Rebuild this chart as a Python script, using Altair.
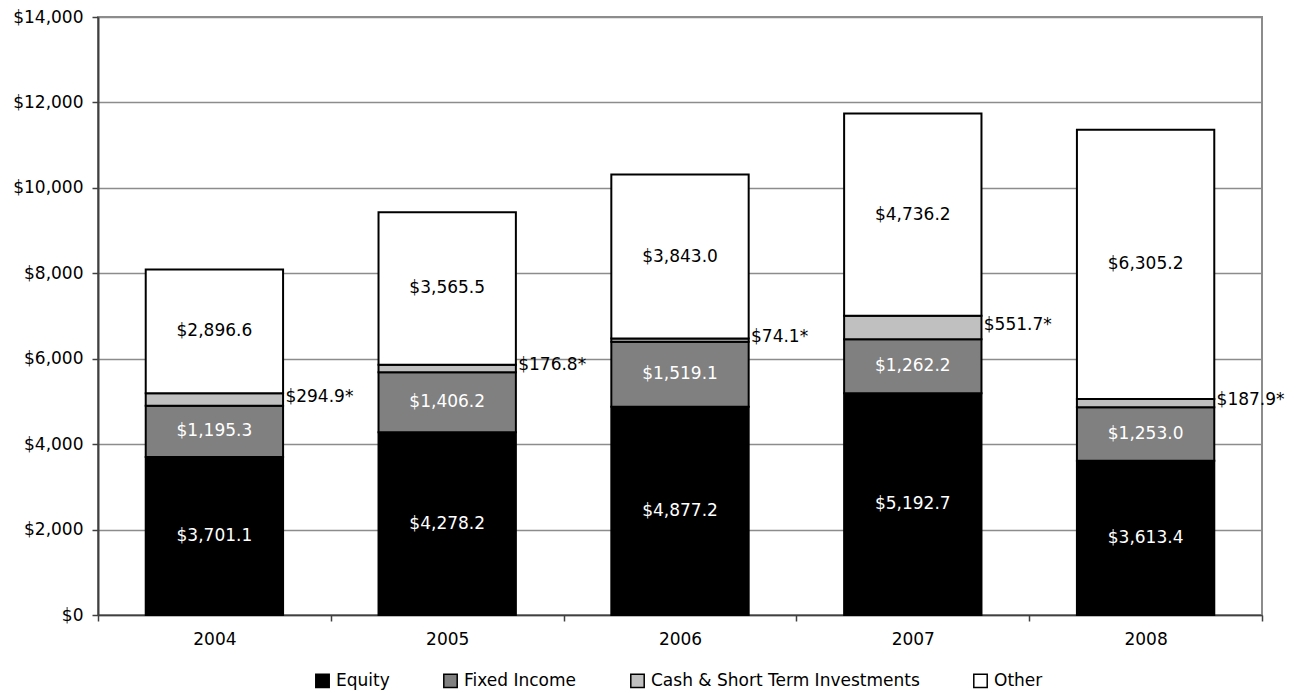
import altair as alt
import pandas as pd

years = ["2004", "2005", "2006", "2007", "2008"]
series = ["Equity", "Fixed Income", "Cash & Short Term Investments", "Other"]
equity = [3701.1, 4278.2, 4877.2, 5192.7, 3613.4]
fixed_income = [1195.3, 1406.2, 1519.1, 1262.2, 1253.0]
cash = [294.9, 176.8, 74.1, 551.7, 187.9]
other = [2896.6, 3565.5, 3843.0, 4736.2, 6305.2]
colors = ["#000000", "#808080", "#c0c0c0", "#ffffff"]
y_ticks = [0, 2000, 4000, 6000, 8000, 10000, 12000, 14000]

rows = []
for i, yr in enumerate(years):
    base = 0.0
    for k, (name, vals) in enumerate(zip(series, [equity, fixed_income, cash, other])):
        v = vals[i]
        lab = f"${v:,.1f}" + ("*" if name == series[2] else "")
        rows.append({"year": yr, "series": name, "value": v, "start": base,
                     "end": base + v, "mid": base + v / 2, "label": lab, "k": k})
        base += v
df = pd.DataFrame(rows)

FONT = "DejaVu Sans"
FS = 17

x_scale = alt.Scale(paddingInner=0, paddingOuter=0)
x_enc = alt.X("year:N", sort=years, scale=x_scale,
              axis=alt.Axis(title=None, labelAngle=0, tickBand="extent",
                            labelFontSize=FS, labelFont=FONT, labelColor="#000000",
                            labelPadding=10, tickSize=6, tickColor="#404040",
                            tickWidth=1.5, domainColor="#404040", domainWidth=1.5))

bars = alt.Chart(df).mark_bar(stroke="#000000", strokeWidth=2,
                              width=alt.RelativeBandSize(0.59)).encode(
    x=x_enc,
    y=alt.Y("start:Q", scale=alt.Scale(domain=[0, 14000], nice=False),
            axis=alt.Axis(title=None, values=y_ticks, format="$,.0f",
                          labelFontSize=FS, labelFont=FONT, labelColor="#000000",
                          labelPadding=9, tickSize=6, tickColor="#404040",
                          tickWidth=1.5, domainColor="#404040", domainWidth=2,
                          gridColor="#8c8c8c", gridWidth=1.5)),
    y2="end:Q",
    color=alt.Color("series:N", sort=series,
                    scale=alt.Scale(domain=series, range=colors),
                    legend=alt.Legend(title=None, orient="none", direction="horizontal",
                                      legendX=216, legendY=655, symbolType="square",
                                      symbolSize=180, symbolStrokeColor="#000000",
                                      symbolStrokeWidth=1.5, labelFontSize=FS,
                                      labelFont=FONT, labelColor="#000000",
                                      labelLimit=0, columnPadding=50, labelOffset=5,
                                      padding=0)),
    order=alt.Order("k:Q"),
)

inside_white = alt.Chart(df).transform_filter(
    alt.FieldOneOfPredicate(field="series", oneOf=series[:2])
).mark_text(color="#ffffff", font=FONT, fontSize=FS, baseline="middle").encode(
    x=alt.X("year:N", sort=years, scale=x_scale), y="mid:Q", text="label:N")

inside_black = alt.Chart(df).transform_filter(
    alt.FieldEqualPredicate(field="series", equal=series[3])
).mark_text(color="#000000", font=FONT, fontSize=FS, baseline="middle").encode(
    x=alt.X("year:N", sort=years, scale=x_scale), y="mid:Q", text="label:N")

outside = alt.Chart(df).transform_filter(
    alt.FieldEqualPredicate(field="series", equal=series[2])
).mark_text(color="#000000", font=FONT, fontSize=FS, baseline="middle",
            align="left", dx=71, dy=-3).encode(
    x=alt.X("year:N", sort=years, scale=x_scale), y="mid:Q", text="label:N")

chart = alt.layer(bars, inside_white, inside_black, outside).properties(
    width=1164, height=598,
    autosize=alt.AutoSizeParams(type="none"),
    padding={"left": 90, "top": 9, "right": 28, "bottom": 78},
).configure_view(stroke="#8c8c8c", strokeWidth=2)

chart.save("out.html", embed_options={"renderer": "svg", "actions": False})
